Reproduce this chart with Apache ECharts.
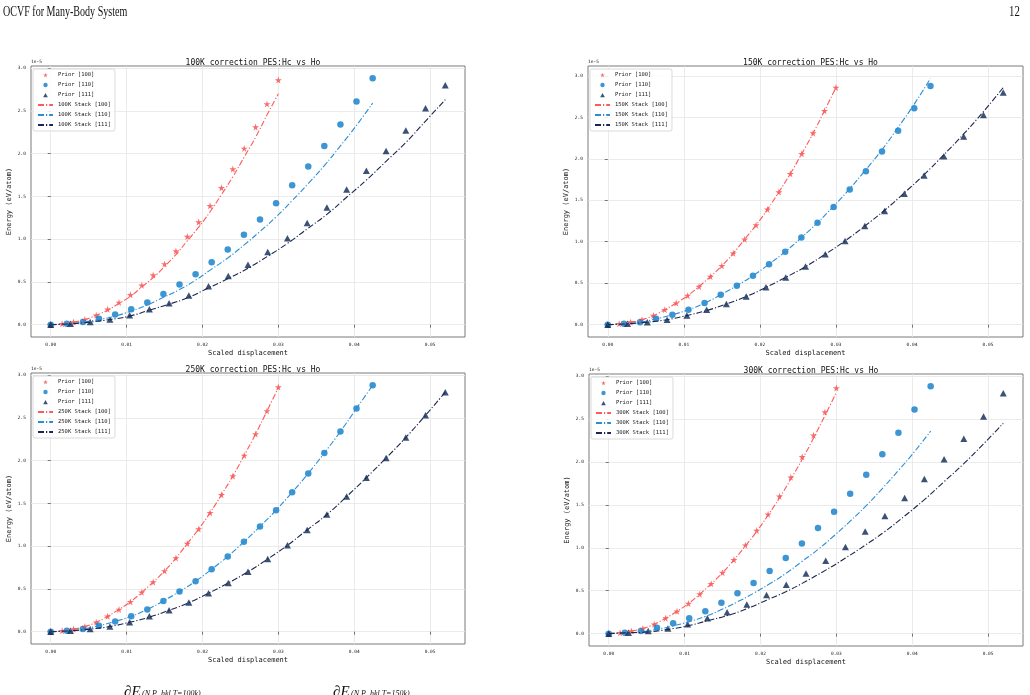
<!DOCTYPE html>
<html>
<head>
<meta charset="utf-8">
<script src="https://cdn.jsdelivr.net/npm/echarts@6/dist/echarts.min.js"></script>
<style>
html,body{margin:0;padding:0;background:#fff;}
#c{width:1030px;height:695px;}
</style>
</head>
<body>
<div id="c"></div>
<script>
// ---- data (energies in units of 1e-5 eV/atom) ----
const temps = ['100K', '150K', '250K', '300K'];
const x100 = [0, 0.0015, 0.003, 0.0045, 0.006, 0.0075, 0.009, 0.0105, 0.012, 0.0135, 0.015, 0.0165, 0.018, 0.0195, 0.021, 0.0225, 0.024, 0.0255, 0.027, 0.0285, 0.030];
const x110 = [0, 0.00212, 0.00424, 0.00636, 0.00849, 0.01061, 0.01273, 0.01485, 0.01697, 0.01909, 0.02121, 0.02333, 0.02546, 0.02758, 0.0297, 0.03182, 0.03394, 0.03606, 0.03818, 0.0403, 0.04243];
const x111 = [0, 0.0026, 0.0052, 0.0078, 0.0104, 0.013, 0.0156, 0.0182, 0.0208, 0.0234, 0.026, 0.0286, 0.0312, 0.0338, 0.0364, 0.039, 0.0416, 0.0442, 0.0468, 0.0494, 0.052];

const prior100 = [0, 0.01, 0.03, 0.06, 0.11, 0.18, 0.26, 0.35, 0.46, 0.58, 0.71, 0.86, 1.03, 1.20, 1.39, 1.60, 1.82, 2.06, 2.31, 2.58, 2.86];
const prior110 = [0, 0.01, 0.03, 0.07, 0.12, 0.18, 0.26, 0.36, 0.47, 0.59, 0.73, 0.88, 1.05, 1.23, 1.42, 1.63, 1.85, 2.09, 2.34, 2.61, 2.88];
const prior111 = [0, 0.01, 0.03, 0.06, 0.11, 0.18, 0.25, 0.34, 0.45, 0.57, 0.70, 0.85, 1.01, 1.19, 1.37, 1.58, 1.80, 2.03, 2.27, 2.53, 2.80];

const stack100K_100 = [0, 0.01, 0.03, 0.06, 0.11, 0.17, 0.25, 0.33, 0.44, 0.55, 0.68, 0.82, 0.98, 1.14, 1.32, 1.52, 1.73, 1.96, 2.19, 2.45, 2.70];
const stack100K_110 = [0, 0.01, 0.03, 0.06, 0.10, 0.16, 0.23, 0.32, 0.41, 0.52, 0.65, 0.78, 0.93, 1.09, 1.26, 1.45, 1.65, 1.86, 2.09, 2.33, 2.59];
const stack100K_111 = [0, 0.01, 0.03, 0.06, 0.10, 0.17, 0.24, 0.32, 0.43, 0.54, 0.66, 0.80, 0.95, 1.12, 1.29, 1.49, 1.69, 1.91, 2.13, 2.38, 2.63];

const stack150K_100 = [0, 0.01, 0.03, 0.06, 0.11, 0.18, 0.26, 0.35, 0.46, 0.58, 0.71, 0.86, 1.03, 1.20, 1.39, 1.60, 1.82, 2.06, 2.31, 2.58, 2.86];
const stack150K_110 = [0, 0.01, 0.03, 0.07, 0.12, 0.18, 0.26, 0.36, 0.47, 0.59, 0.73, 0.88, 1.05, 1.23, 1.43, 1.64, 1.87, 2.11, 2.38, 2.66, 2.97];
const stack150K_111 = [0, 0.01, 0.03, 0.06, 0.11, 0.17, 0.25, 0.34, 0.45, 0.57, 0.70, 0.85, 1.01, 1.19, 1.38, 1.59, 1.81, 2.05, 2.30, 2.57, 2.86];

const stack250K_100 = [0, 0.01, 0.03, 0.06, 0.11, 0.18, 0.26, 0.35, 0.46, 0.58, 0.71, 0.86, 1.03, 1.20, 1.39, 1.60, 1.82, 2.06, 2.31, 2.58, 2.85];
const stack250K_110 = [0, 0.01, 0.03, 0.07, 0.12, 0.18, 0.26, 0.36, 0.47, 0.59, 0.73, 0.88, 1.05, 1.23, 1.42, 1.63, 1.85, 2.09, 2.34, 2.61, 2.88];
const stack250K_111 = [0, 0.01, 0.03, 0.06, 0.11, 0.17, 0.25, 0.34, 0.45, 0.57, 0.70, 0.85, 1.01, 1.19, 1.37, 1.58, 1.80, 2.03, 2.27, 2.53, 2.80];

const stack300K_100 = [0, 0.01, 0.03, 0.06, 0.11, 0.18, 0.26, 0.35, 0.46, 0.58, 0.71, 0.86, 1.02, 1.19, 1.38, 1.58, 1.80, 2.03, 2.28, 2.54, 2.81];
const stack300K_110 = [0, 0.01, 0.02, 0.05, 0.09, 0.14, 0.20, 0.28, 0.37, 0.47, 0.58, 0.70, 0.84, 0.98, 1.14, 1.31, 1.49, 1.69, 1.90, 2.12, 2.36];
const stack300K_111 = [0, 0.01, 0.02, 0.05, 0.09, 0.15, 0.21, 0.29, 0.39, 0.49, 0.61, 0.74, 0.88, 1.03, 1.19, 1.37, 1.56, 1.77, 1.98, 2.21, 2.45];

const stacks = [
  [stack100K_100, stack100K_110, stack100K_111],
  [stack150K_100, stack150K_110, stack150K_111],
  [stack250K_100, stack250K_110, stack250K_111],
  [stack300K_100, stack300K_110, stack300K_111]
];
const xTicks = [0, 0.01, 0.02, 0.03, 0.04, 0.05];
const yTicks = [0, 0.5, 1.0, 1.5, 2.0, 2.5, 3.0];

// ---- layout / style ----
const FONT = 'DejaVu Sans Mono';
const grids = [
  {left: 31, top: 66, width: 434, height: 271},
  {left: 588, top: 66, width: 435, height: 271},
  {left: 31, top: 373, width: 434, height: 271},
  {left: 589, top: 374, width: 434, height: 272}
];
const yRanges = [[-0.144, 3.024], [-0.149, 3.12], [-0.144, 3.024], [-0.144, 3.024]];
const xRange = [-0.0026, 0.0546];
const cRed = '#f64a4a', cBlue = '#0c7cc8', cNavy = '#0b2752';
const lRed = '#ff5a5a', lBlue = '#2a8ed6', lNavy = '#1b2650';
const STAR = 'path://M50,0 L61,35 L98,35 L68,57 L79,91 L50,70 L21,91 L32,57 L2,35 L39,35 Z';
const TRI = 'path://M0,0 L1,1.732 L-1,1.732 Z';
// legend icons: small marker centred in a wide invisible box
const STAR_LEG = 'path://M0,0 M150,50 M75,3 L80.5,20 L99,20 L84,31 L89.5,48 L75,38 L60.5,48 L66,31 L51,20 L69.5,20 Z';
const TRI_LEG = 'path://M0,0 M150,50 M75,4 L98,47 L52,47 Z';
const CIR_LEG = 'path://M0,0 M150,50 M97,25 A22,22 0 1 1 53,25 A22,22 0 1 1 97,25 Z';
const dashDot = [6, 2, 1.2, 2];

const zip = (xs, ys) => xs.map((x, i) => [x, ys[i]]);

const option = {
  animation: false,
  backgroundColor: '#fff',
  textStyle: {fontFamily: FONT},
  grid: grids.map(g => Object.assign({show: true, borderColor: '#7a7a7a', borderWidth: 1, backgroundColor: 'transparent'}, g)),
  title: grids.map((g, i) => ({
    text: temps[i] + ' correction PES:Hc vs Ho',
    left: g.left + g.width / 2, top: g.top - 12, textAlign: 'center',
    textStyle: {fontFamily: FONT, fontSize: 8, fontWeight: 'normal', color: '#111'}
  })),
  xAxis: grids.map((g, i) => ({
    type: 'value', gridIndex: i, min: xRange[0], max: xRange[1],
    name: 'Scaled displacement', nameLocation: 'middle', nameGap: 13,
    nameTextStyle: {fontFamily: FONT, fontSize: 7, color: '#111'},
    axisLine: {show: false},
    axisTick: {show: true, customValues: xTicks, length: 3, lineStyle: {color: '#555', width: 0.8}},
    axisLabel: {customValues: xTicks, formatter: v => v.toFixed(2), fontFamily: FONT, fontSize: 4.5, color: '#222', margin: 5},
    splitLine: {show: true, lineStyle: {color: '#e6e6e6', width: 0.8}}
  })),
  yAxis: grids.map((g, i) => ({
    type: 'value', gridIndex: i, min: yRanges[i][0], max: yRanges[i][1],
    name: 'Energy (eV/atom)', nameLocation: 'middle', nameGap: 18,
    nameTextStyle: {fontFamily: FONT, fontSize: 7, color: '#111'},
    axisLine: {show: false},
    axisTick: {show: true, customValues: yTicks, length: 3, lineStyle: {color: '#555', width: 0.8}},
    axisLabel: {customValues: yTicks, formatter: v => v.toFixed(1), fontFamily: FONT, fontSize: 4.5, color: '#222', margin: 5},
    splitLine: {show: true, lineStyle: {color: '#e6e6e6', width: 0.8}}
  })),
  legend: grids.map((g, i) => ({
    data: [
      {name: 'Prior [100]', icon: STAR_LEG},
      {name: 'Prior [110]', icon: CIR_LEG},
      {name: 'Prior [111]', icon: TRI_LEG},
      {name: temps[i] + ' Stack [100]', itemStyle: {opacity: 0}},
      {name: temps[i] + ' Stack [110]', itemStyle: {opacity: 0}},
      {name: temps[i] + ' Stack [111]', itemStyle: {opacity: 0}}
    ],
    orient: 'vertical', left: g.left + 2, top: g.top + 3,
    itemWidth: 15, itemHeight: 5, itemGap: 4,
    padding: [3, 4, 3, 4],
    borderColor: '#d0d0d0', borderWidth: 0.8, borderRadius: 2,
    backgroundColor: 'rgba(255,255,255,0.85)',
    textStyle: {fontFamily: FONT, fontSize: 5.5, color: '#222'},
    selectedMode: false
  })),
  graphic: [
    {type: 'text', left: 3, top: 5, scaleX: 0.67, style: {text: 'OCVF for Many-Body System', font: '15px "Liberation Serif"', fill: '#111'}},
    {type: 'text', left: 1009, top: 5, scaleX: 0.72, style: {text: '12', font: '15px "Liberation Serif"', fill: '#111'}},
    {type: 'text', left: 124, top: 685, style: {text: '\u2202E', font: 'italic 15px "Liberation Serif"', fill: '#111'}},
    {type: 'text', left: 142, top: 690, style: {text: '(N,P_hkl,T=100k)', font: 'italic 8px "Liberation Serif"', fill: '#111'}},
    {type: 'text', left: 333, top: 685, style: {text: '\u2202E', font: 'italic 15px "Liberation Serif"', fill: '#111'}},
    {type: 'text', left: 351, top: 690, style: {text: '(N,P_hkl,T=150k)', font: 'italic 8px "Liberation Serif"', fill: '#111'}}
  ].concat(grids.map(g => ({
    type: 'text', left: g.left, top: g.top - 7,
    style: {text: '1e-5', font: '4.5px "DejaVu Sans Mono"', fill: '#222'}
  }))),
  series: []
};

grids.forEach((g, i) => {
  const s = stacks[i];
  option.series.push(
    {name: 'Prior [100]', type: 'scatter', xAxisIndex: i, yAxisIndex: i, symbol: STAR, symbolSize: 7, itemStyle: {color: cRed}, data: zip(x100, prior100), z: 3},
    {name: 'Prior [110]', type: 'scatter', xAxisIndex: i, yAxisIndex: i, symbol: 'circle', symbolSize: 6.5, itemStyle: {color: cBlue}, data: zip(x110, prior110), z: 3},
    {name: 'Prior [111]', type: 'scatter', xAxisIndex: i, yAxisIndex: i, symbol: TRI, symbolSize: [7, 6.5], itemStyle: {color: cNavy}, data: zip(x111, prior111), z: 3},
    {name: temps[i] + ' Stack [100]', type: 'line', xAxisIndex: i, yAxisIndex: i, symbol: 'none', smooth: true, itemStyle: {color: lRed}, lineStyle: {color: lRed, width: 1.1, type: dashDot}, data: zip(x100, s[0]), z: 4},
    {name: temps[i] + ' Stack [110]', type: 'line', xAxisIndex: i, yAxisIndex: i, symbol: 'none', smooth: true, itemStyle: {color: lBlue}, lineStyle: {color: lBlue, width: 1.1, type: dashDot}, data: zip(x110, s[1]), z: 4},
    {name: temps[i] + ' Stack [111]', type: 'line', xAxisIndex: i, yAxisIndex: i, symbol: 'none', smooth: true, itemStyle: {color: lNavy}, lineStyle: {color: lNavy, width: 1.1, type: dashDot}, data: zip(x111, s[2]), z: 4}
  );
});

const chart = echarts.init(document.getElementById('c'), null, {renderer: 'canvas'});
chart.setOption(option);
</script>
</body>
</html>
